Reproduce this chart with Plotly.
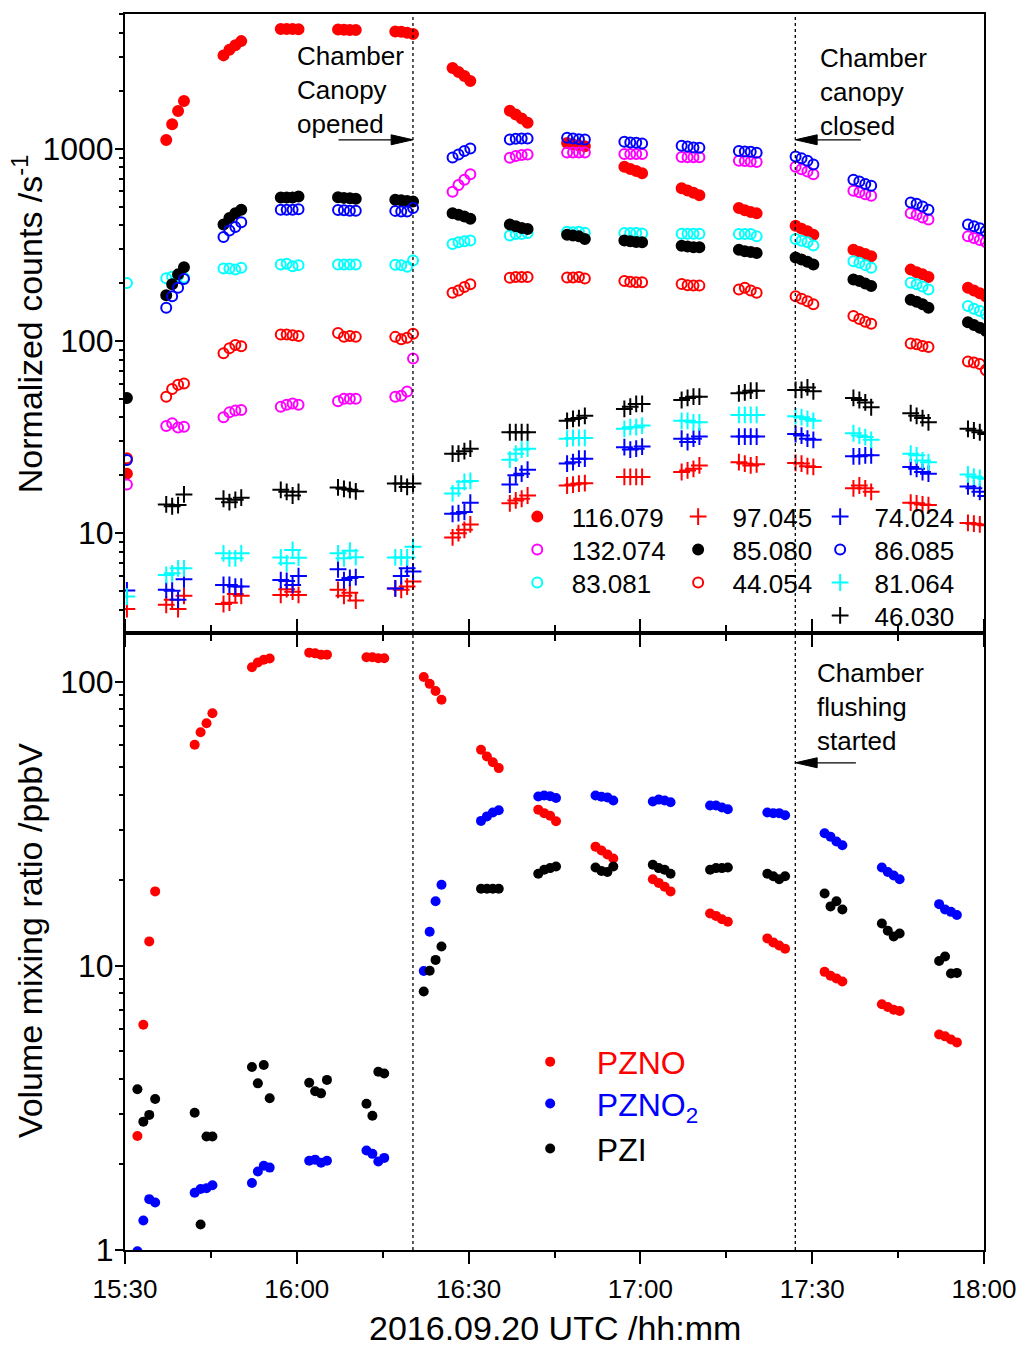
import plotly.graph_objects as go

DATE = "2016-09-20 "

# ---------------- data ----------------
top_times = ["15:30:20",
    "15:37:12", "15:38:14", "15:39:16", "15:40:18",
    "15:47:12", "15:48:14", "15:49:16", "15:50:18",
    "15:57:12", "15:58:14", "15:59:16", "16:00:18",
    "16:07:12", "16:08:14", "16:09:16", "16:10:18",
    "16:17:12", "16:18:14", "16:19:16", "16:20:18",
    "16:27:12", "16:28:14", "16:29:16", "16:30:18",
    "16:37:12", "16:38:14", "16:39:16", "16:40:18",
    "16:47:12", "16:48:14", "16:49:16", "16:50:18",
    "16:57:12", "16:58:14", "16:59:16", "17:00:18",
    "17:07:12", "17:08:14", "17:09:16", "17:10:18",
    "17:17:12", "17:18:14", "17:19:16", "17:20:18",
    "17:27:06", "17:28:08", "17:29:10", "17:30:12",
    "17:37:12", "17:38:14", "17:39:16", "17:40:18",
    "17:47:12", "17:48:14", "17:49:16", "17:50:18",
    "17:57:12", "17:58:14", "17:59:16", "18:00:18"]

s116_079 = [20.4,
    1110, 1340, 1570, 1770,
    3060, 3270, 3450, 3630,
    4200, 4200, 4200, 4190,
    4170, 4160, 4150, 4150,
    4070, 4060, 4010, 3950,
    2630, 2510, 2390, 2250,
    1575, 1505, 1435, 1365,
    1070, 1055, 1040, 1030,
    807, 785, 766, 745,
    623, 606, 591, 573,
    491, 478, 468, 461,
    398, 384, 372, 357,
    298, 290, 283, 276,
    235, 228, 222, 215,
    189, 183, 177, 171]

s132_074 = [17.9,
    36.1, 37.3, 35.5, 35.8,
    40.1, 42.5, 43.4, 43.7,
    45.5, 46.6, 47.3, 46.6,
    48.5, 50.0, 50.0, 50.0,
    51.3, 51.9, 54.5, 81.0,
    598, 648, 689, 736,
    898, 916, 927, 934,
    957, 957, 957, 955,
    940, 940, 939, 939,
    905, 904, 904, 903,
    867, 863, 857, 853,
    807, 782, 761, 736,
    604, 594, 580, 569,
    462, 453, 439, 428,
    350, 343, 335, 327]

s83_081 = [200,
    212, 216, 218, 214,
    238, 238, 235, 240,
    250, 252, 245, 248,
    250, 250, 250, 250,
    249, 248, 243, 262,
    319, 326, 330, 333,
    354, 360, 360, 364,
    370, 368, 370, 365,
    364, 364, 364, 362,
    361, 361, 361, 361,
    360, 360, 360, 350,
    339, 332, 326, 314,
    260, 255, 248, 240,
    201, 197, 192, 185,
    152, 147, 143, 138]

s97_045 = [4.03,
    4.24, 4.50, 4.03, 4.72,
    4.28, 4.35, 4.83, 4.72,
    4.77, 5.11, 4.96, 4.77,
    5.07, 4.72, 4.89, 4.46,
    5.16, 5.07, 5.27, 5.60,
    9.5, 10.0, 10.4, 11.1,
    14.3, 14.8, 15.1, 15.7,
    17.7, 17.9, 18.1, 18.2,
    19.6, 19.6, 19.6, 19.6,
    20.8, 21.2, 21.6, 22.5,
    23.4, 23.0, 22.5, 22.8,
    23.2, 23.0, 22.3, 22.1,
    17.1, 17.7, 17.1, 16.4,
    14.4, 14.3, 14.1, 14.0,
    11.3, 11.2, 11.1, 11.0]

s85_080 = [50.5,
    173, 197, 222, 242,
    403, 436, 462, 481,
    557, 557, 557, 564,
    560, 555, 552, 550,
    542, 540, 535, 531,
    462, 453, 444, 432,
    403, 395, 387, 382,
    357, 354, 350, 339,
    333, 330, 327, 326,
    313, 310, 307, 307,
    298, 293, 290, 287,
    272, 265, 258, 250,
    209, 205, 199, 193,
    164, 160, 155, 149,
    125, 121, 117, 113]

s44_054 = [24.5,
    51.3, 56.2, 59.2, 60.1,
    86.3, 91.6, 95.3, 93.9,
    108, 108, 107, 106,
    110, 105, 106, 105,
    105, 102, 104, 109,
    178, 183, 191, 197,
    213, 215, 215, 215,
    214, 214, 215, 211,
    205, 203, 202, 202,
    198, 195, 194, 194,
    185, 189, 183, 178,
    171, 166, 161, 155,
    135, 130, 126, 123,
    96.9, 96.2, 94.2, 93.1,
    78.2, 77.2, 75.8, 70.5]

s74_024 = [5.03,
    5.07, 5.02, 4.50, 5.75,
    5.38, 5.38, 5.27, 5.27,
    5.70, 5.64, 5.38, 5.98,
    6.49, 5.70, 5.85, 5.91,
    5.16, 5.98, 6.56, 6.31,
    12.6, 12.7, 12.9, 14.4,
    17.9, 20.0, 20.4, 21.4,
    23.0, 23.4, 24.4, 24.4,
    28.0, 27.2, 27.5, 28.2,
    31.0, 29.8, 31.0, 31.8,
    31.8, 31.8, 31.8, 31.8,
    32.8, 32.2, 31.0, 30.6,
    25.1, 25.1, 25.4, 25.4,
    22.1, 21.6, 20.8, 20.4,
    17.5, 17.1, 16.4, 15.6]

s86_085 = [24.0,
    149, 171, 189, 210,
    347, 375, 391, 415,
    481, 481, 481, 484,
    480, 478, 476, 476,
    475, 472, 472, 491,
    901, 934, 972, 1004,
    1117, 1127, 1130, 1130,
    1140, 1130, 1122, 1117,
    1087, 1078, 1074, 1065,
    1036, 1028, 1016, 1012,
    972, 968, 965, 953,
    910, 891, 867, 829,
    689, 675, 656, 641,
    525, 517, 500, 481,
    403, 395, 386, 372]

s81_064 = [4.68,
    6.06, 6.18, 6.56, 6.56,
    7.85, 7.40, 7.40, 7.85,
    7.48, 6.97, 8.17, 7.45,
    7.85, 7.40, 8.10, 7.50,
    7.48, 7.48, 7.48, 8.49,
    16.1, 17.1, 18.5, 18.7,
    24.1, 25.9, 27.2, 27.5,
    31.0, 31.3, 31.3, 31.3,
    34.9, 35.6, 35.6, 36.3,
    38.4, 38.4, 37.7, 37.7,
    41.2, 41.2, 41.2, 41.2,
    40.6, 40.1, 39.3, 38.4,
    33.1, 32.2, 31.6, 30.6,
    25.9, 25.4, 23.9, 23.4,
    20.2, 19.7, 19.4, 19.2]

s46_030 = [None,
    14.1, 13.8, 14.0, 15.9,
    15.1, 14.5, 14.9, 15.3,
    16.8, 16.4, 15.7, 16.4,
    17.3, 17.0, 16.8, 16.5,
    18.1, 18.1, 17.4, 18.1,
    25.9, 25.9, 26.7, 27.5,
    33.5, 33.5, 33.5, 33.5,
    38.4, 39.3, 39.7, 40.8,
    44.3, 45.5, 47.0, 47.0,
    49.3, 50.5, 51.3, 51.3,
    53.4, 54.0, 55.1, 55.1,
    55.6, 55.6, 57.3, 54.7,
    50.5, 49.3, 47.9, 45.2,
    42.1, 40.8, 39.7, 37.7,
    34.9, 34.2, 33.5, 32.8]

bottom_times = [
    "15:32:10", "15:33:12", "15:34:14", "15:35:16",
    "15:42:10", "15:43:12", "15:44:14", "15:45:16",
    "15:52:10", "15:53:12", "15:54:14", "15:55:16",
    "16:02:10", "16:03:12", "16:04:14", "16:05:16",
    "16:12:10", "16:13:12", "16:14:14", "16:15:16",
    "16:22:10", "16:23:12", "16:24:14", "16:25:16",
    "16:32:10", "16:33:12", "16:34:14", "16:35:16",
    "16:42:10", "16:43:12", "16:44:14", "16:45:16",
    "16:52:10", "16:53:12", "16:54:14", "16:55:16",
    "17:02:10", "17:03:12", "17:04:14", "17:05:16",
    "17:12:10", "17:13:12", "17:14:14", "17:15:16",
    "17:22:10", "17:23:12", "17:24:14", "17:25:16",
    "17:32:10", "17:33:12", "17:34:14", "17:35:16",
    "17:42:10", "17:43:12", "17:44:14", "17:45:16",
    "17:52:10", "17:53:12", "17:54:14", "17:55:16"]

pzno = [2.52, 6.21, 12.2, 18.3,
    60.1, 66.5, 71.5, 77.5,
    112.6, 117, 119.7, 120.8,
    126.7, 126, 124.7, 124.7,
    122, 122, 121, 121,
    104, 98.4, 92.8, 86.5,
    57.7, 54.6, 52.1, 49.7,
    35.5, 34.5, 33.8, 32.3,
    26.3, 25.5, 24.7, 23.9,
    20.2, 19.6, 19.0, 18.3,
    15.3, 15.0, 14.6, 14.3,
    12.5, 12.1, 11.8, 11.5,
    9.53, 9.24, 9.04, 8.81,
    7.33, 7.17, 7.01, 6.94,
    5.74, 5.65, 5.51, 5.38]

pzno2 = [0.99, 1.27, 1.51, 1.47,
    1.59, 1.64, 1.65, 1.69,
    1.72, 1.89, 1.98, 1.95,
    2.06, 2.08, 2.03, 2.06,
    2.24, 2.18, 2.05, 2.11,
    9.6, 13.2, 16.9, 19.3,
    32.4, 33.6, 34.7, 35.3,
    39.5, 39.8, 39.6, 39.0,
    39.8, 39.4, 39.2, 38.2,
    37.9, 38.5, 38.2, 37.7,
    36.7, 36.7, 36.1, 35.6,
    34.7, 34.5, 34.5, 33.9,
    29.3, 28.5, 27.4, 26.6,
    22.2, 21.4, 20.8, 20.2,
    16.5, 15.8, 15.5, 15.1]

pzi = [3.68, 2.83, 2.99, 3.40,
    3.04, 1.23, 2.51, 2.51,
    4.41, 3.86, 4.48, 3.42,
    3.88, 3.62, 3.56, 3.97,
    3.27, 2.97, 4.24, 4.18,
    8.13, 9.62, 10.5, 11.7,
    18.7, 18.7, 18.7, 18.7,
    21.1, 21.8, 22.1, 22.4,
    22.2, 21.6, 21.4, 22.4,
    22.7, 22.1, 21.8, 21.1,
    21.8, 22.1, 22.1, 22.2,
    21.1, 20.7, 20.2, 20.7,
    18.0, 16.2, 16.9, 15.8,
    14.1, 13.3, 12.7, 13.0,
    10.4, 10.8, 9.4, 9.45]

top_ticks = [10, 100, 1000]
top_minor = [4, 5, 6, 7, 8, 9, 20, 30, 40, 50, 60, 70, 80, 90,
             200, 300, 400, 500, 600, 700, 800, 900, 2000, 3000, 4000, 5000]
bot_ticks = [1, 10, 100]
bot_minor = [2, 3, 4, 5, 6, 7, 8, 9, 20, 30, 40, 50, 60, 70, 80, 90]

event_open = "16:20:17"
event_close = "17:27:03"

# ---------------- figure ----------------
FONT = "Liberation Sans, Arial, sans-serif"
fig = go.Figure()

def tt(lst):
    return [DATE + s for s in lst]

filled = dict(symbol="circle", size=10)
openc = dict(symbol="circle-open", size=10)
plus = dict(symbol="cross-thin-open", size=12)

NB = "\u00a0"
# (label, values, colour, marker, legend column px, legend row px)
top_series = [
    ("116.079", s116_079, "#FF0000", filled, 538, 518),
    ("132.074", s132_074, "#FF00FF", openc, 538, 551),
    ("83.081", s83_081, "#00FFFF", openc, 538, 584),
    ("97.045", s97_045, "#FF0000", plus, 700, 518),
    ("85.080", s85_080, "#000000", filled, 700, 551),
    ("44.054", s44_054, "#FF0000", openc, 700, 584),
    ("74.024", s74_024, "#0000FF", plus, 843, 518),
    ("86.085", s86_085, "#0000FF", openc, 843, 551),
    ("81.064", s81_064, "#00FFFF", plus, 843, 584),
    ("46.030", s46_030, "#000000", plus, 843, 617),
]

L, R, T, B = 125, 39, 12, 96
W, H = 1029, 1346
PW, PH = W - L - R, H - T - B
split = 618 / PH

def pxx(px):
    return (px - L) / PW

def pxy(py):
    return (H - B - py) / PH

legends = {}
n = 0
for name, vals, col, sym, lx, ly in top_series:
    n += 1
    key = "legend" if n == 1 else "legend%d" % n
    fig.add_trace(go.Scatter(
        x=tt(top_times), y=vals, mode="markers", name=NB * 2 + name, legend=key,
        xaxis="x", yaxis="y",
        marker=dict(symbol=sym["symbol"], size=sym["size"], color=col,
                    line=dict(width=2, color=col)),
    ))
    legends[key] = dict(x=pxx(lx - 18), y=pxy(ly - 26), xanchor="left", yanchor="top",
                        bgcolor="rgba(0,0,0,0)", borderwidth=0,
                        font=dict(family=FONT, size=26, color="black"),
                        itemclick=False, itemdoubleclick=False)

bot_series = [
    ('<span style="color:#FF0000">PZNO</span>', pzno, "#FF0000", 1063),
    ('<span style="color:#0000FF">PZNO<sub>2</sub></span>', pzno2, "#0000FF", 1105),
    ('<span style="color:#000000">PZI</span>', pzi, "#000000", 1150),
]
for name, vals, col, ly in bot_series:
    n += 1
    key = "legend%d" % n
    fig.add_trace(go.Scatter(
        x=tt(bottom_times), y=vals, mode="markers", name=NB * 3 + name, legend=key,
        xaxis="x2", yaxis="y2",
        marker=dict(symbol="circle", size=10, color=col),
    ))
    legends[key] = dict(x=pxx(551 - 18), y=pxy(ly - 29), xanchor="left", yanchor="top",
                        bgcolor="rgba(0,0,0,0)", borderwidth=0,
                        font=dict(family=FONT, size=32, color="black"),
                        itemclick=False, itemdoubleclick=False)

axis_common = dict(showline=True, linewidth=2, linecolor="black", showgrid=False,
                   zeroline=False, ticks="outside", tickwidth=2, tickcolor="black")
xfont = dict(family=FONT, size=26, color="black")
yfont = dict(family=FONT, size=32, color="black")

xr = [DATE + "15:30", DATE + "18:00"]
fig.update_layout(
    width=W, height=H,
    margin=dict(l=L, r=R, t=T, b=B),
    paper_bgcolor="white", plot_bgcolor="white",
    font=dict(family=FONT, size=26, color="black"),
    xaxis=dict(axis_common, domain=[0, 1], anchor="y", type="date", range=xr,
               showticklabels=False, ticklen=12, mirror=True, tickfont=xfont,
               tick0=DATE + "15:30", dtick=1800000,
               minor=dict(ticks="outside", dtick=900000, ticklen=6, tickwidth=2,
                          tickcolor="black")),
    yaxis=dict(axis_common, domain=[split, 1], anchor="x", type="log",
               range=[0.4805, 3.701], tickmode="array", tickvals=top_ticks,
               ticktext=[str(v) for v in top_ticks], ticklen=8, mirror=True,
               tickfont=yfont, ticklabelstandoff=-5,
               minor=dict(ticks="outside", tickmode="array", tickvals=top_minor,
                          ticklen=4, tickwidth=2, tickcolor="black")),
    xaxis2=dict(axis_common, domain=[0, 1], anchor="y2", type="date", range=xr,
                tickformat="%H:%M", ticklen=12, mirror="ticks", tickfont=xfont,
                ticklabelstandoff=3,
                tick0=DATE + "15:30", dtick=1800000,
                minor=dict(ticks="outside", dtick=900000, ticklen=6, tickwidth=2,
                           tickcolor="black")),
    yaxis2=dict(axis_common, domain=[0, split], anchor="x2", type="log",
                range=[0, 2.172], tickmode="array", tickvals=bot_ticks,
                ticktext=[str(v) for v in bot_ticks], ticklen=8, mirror=True,
                tickfont=yfont, ticklabelstandoff=-5,
                minor=dict(ticks="outside", tickmode="array", tickvals=bot_minor,
                           ticklen=4, tickwidth=2, tickcolor="black")),
    showlegend=True,
)
fig.update_layout(legends)

# event lines
shapes = []
for ev in (event_open, event_close):
    shapes.append(dict(type="line", xref="x", yref="paper", x0=DATE + ev, x1=DATE + ev,
                       y0=0, y1=1, line=dict(color="black", width=1.3, dash="dot")))

def arrow(tail_px, tip_px, y_px):
    d = 1 if tip_px > tail_px else -1
    base = tip_px - d * 22
    out = [dict(type="line", xref="paper", yref="paper", x0=pxx(tail_px), x1=pxx(base),
                y0=pxy(y_px), y1=pxy(y_px), line=dict(color="black", width=1.3))]
    path = "M {},{} L {},{} L {},{} Z".format(
        pxx(tip_px), pxy(y_px), pxx(base), pxy(y_px - 5), pxx(base), pxy(y_px + 5))
    out.append(dict(type="path", xref="paper", yref="paper", path=path,
                    fillcolor="black", line=dict(color="black", width=1)))
    return out

shapes += arrow(340, 415, 138)
shapes += arrow(866, 800, 138)
shapes += arrow(861, 800, 762)
fig.update_layout(shapes=shapes)

ann_font = dict(family=FONT, size=26, color="black")
annotations = [
    dict(text="Chamber<br>Canopy<br>opened", x=pxx(296), y=pxy(88), xref="paper", yref="paper",
         xanchor="left", yanchor="middle", align="left", showarrow=False, font=ann_font),
    dict(text="Chamber<br>canopy<br>closed", x=pxx(823), y=pxy(90), xref="paper", yref="paper",
         xanchor="left", yanchor="middle", align="left", showarrow=False, font=ann_font),
    dict(text="Chamber<br>flushing<br>started", x=pxx(820), y=pxy(706), xref="paper", yref="paper",
         xanchor="left", yanchor="middle", align="left", showarrow=False, font=ann_font),
    dict(text="Normalized counts /s<sup>-1</sup>", x=pxx(27), y=pxy(322), xref="paper",
         yref="paper", xanchor="center", yanchor="middle", textangle=-90, showarrow=False,
         font=dict(family=FONT, size=34, color="black")),
    dict(text="Volume mixing ratio /ppbV", x=pxx(29), y=pxy(940), xref="paper",
         yref="paper", xanchor="center", yanchor="middle", textangle=-90, showarrow=False,
         font=dict(family=FONT, size=34, color="black")),
    dict(text="2016.09.20 UTC /hh:mm", x=pxx(558), y=pxy(1328), xref="paper",
         yref="paper", xanchor="center", yanchor="middle", showarrow=False,
         font=dict(family=FONT, size=34, color="black")),
]
fig.update_layout(annotations=annotations)

fig.write_html("out.html")
